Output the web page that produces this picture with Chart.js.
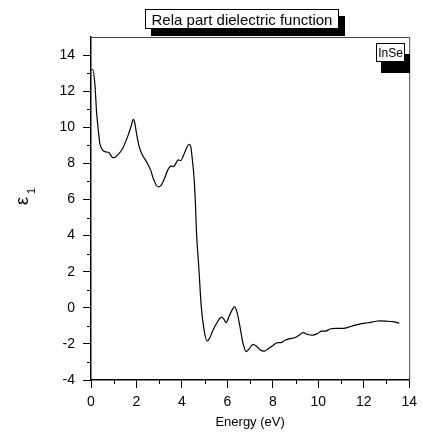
<!DOCTYPE html>
<html>
<head>
<meta charset="utf-8">
<title>Rela part dielectric function</title>
<script src="https://cdn.jsdelivr.net/npm/chart.js@4.4.1/dist/chart.umd.min.js"></script>
<style>
  html, body { margin: 0; padding: 0; background: #fff; }
  #plot { display: block; }
</style>
</head>
<body>
<canvas id="plot" width="423" height="437"></canvas>
<script>
// photon energy (eV) and real part of the dielectric function, InSe
const energy = [
  0.03, 0.08, 0.17, 0.25, 0.32, 0.39, 0.46, 0.6, 0.79, 0.86, 0.96, 1.02,
  1.18, 1.4, 1.61, 1.76, 1.86, 1.93, 2.0, 2.12, 2.26, 2.48, 2.62, 2.76,
  2.95, 3.1, 3.24, 3.38, 3.53, 3.63, 3.7, 3.84, 3.95, 4.06, 4.2, 4.32,
  4.39, 4.46, 4.54, 4.6, 4.64, 4.74, 4.85, 4.97, 5.11, 5.21, 5.35, 5.54,
  5.74, 5.86, 5.94, 6.08, 6.22, 6.32, 6.43, 6.55, 6.68, 6.83, 6.94, 7.13,
  7.27, 7.45, 7.63, 7.8, 8.02, 8.21, 8.34, 8.52, 8.74, 8.96, 9.14, 9.34,
  9.53, 9.75, 9.97, 10.14, 10.32, 10.54, 10.76, 11.12, 11.33, 11.62, 11.91,
  12.2, 12.48, 12.7, 12.99, 13.28, 13.56
];
const eps1 = [
  13.17, 13.2, 12.4, 10.77, 9.85, 9.1, 8.84, 8.65, 8.6, 8.47, 8.32, 8.32,
  8.47, 8.84, 9.48, 10.03, 10.44, 10.22, 9.67, 8.93, 8.47, 8.01, 7.64, 7.09,
  6.69, 6.81, 7.18, 7.64, 7.86, 7.82, 7.93, 8.19, 8.15, 8.41, 8.84, 9.06,
  8.93, 8.19, 7.09, 5.61, 4.2, 2.3, 0.09, -1.2, -1.84, -1.71, -1.29, -0.83,
  -0.52, -0.65, -0.83, -0.46, -0.09, 0.06, -0.28, -1.02, -1.93, -2.43, -2.3, -2.03,
  -2.12, -2.34, -2.4, -2.27, -2.07, -1.93, -1.93, -1.81, -1.71, -1.66, -1.53, -1.38,
  -1.48, -1.51, -1.42, -1.29, -1.29, -1.16, -1.14, -1.14, -1.07, -0.96, -0.88,
  -0.83, -0.76, -0.72, -0.74, -0.77, -0.85
];

const xTicks = [0, 2, 4, 6, 8, 10, 12, 14];
const xMinor = [1, 3, 5, 7, 9, 11, 13];
const yTicks = [-4, -2, 0, 2, 4, 6, 8, 10, 12, 14];
const yMinor = [-3, -1, 1, 3, 5, 7, 9, 11, 13];

const titleText = 'Rela part dielectric function';
const legendText = 'InSe';
const xTitle = 'Energy (eV)';

const FONT = 'Arial, "Liberation Sans", sans-serif';

const shadowBox = (ctx, x, y, w, h, dx, dy) => {
  ctx.fillStyle = '#000';
  ctx.fillRect(x + dx, y + dy, w, h);
  ctx.fillStyle = '#fff';
  ctx.fillRect(x, y, w, h);
  ctx.strokeStyle = '#000';
  ctx.lineWidth = 1;
  ctx.strokeRect(x + 0.5, y + 0.5, w - 1, h - 1);
};

const decor = {
  id: 'decor',
  beforeDraw(chart) {
    const { ctx, width, height } = chart;
    ctx.save();
    ctx.fillStyle = '#fff';
    ctx.fillRect(0, 0, width, height);
    ctx.restore();
  },
  afterDraw(chart) {
    const { ctx, chartArea: a } = chart;
    const sx = chart.scales.x, sy = chart.scales.y;
    ctx.save();

    // top and right frame
    ctx.strokeStyle = '#444';
    ctx.lineWidth = 1;
    ctx.beginPath();
    ctx.moveTo(a.left, a.top + 0.5);
    ctx.lineTo(a.right + 0.5, a.top + 0.5);
    ctx.lineTo(a.right + 0.5, a.bottom);
    ctx.stroke();

    // minor ticks
    ctx.strokeStyle = '#000';
    ctx.beginPath();
    xMinor.forEach((v) => {
      const px = Math.round(sx.getPixelForValue(v)) + 0.5;
      ctx.moveTo(px, a.bottom);
      ctx.lineTo(px, a.bottom + 4);
    });
    yMinor.forEach((v) => {
      const py = Math.round(sy.getPixelForValue(v)) + 0.5;
      ctx.moveTo(a.left, py);
      ctx.lineTo(a.left - 4, py);
    });
    ctx.stroke();

    // title box
    ctx.font = `15px ${FONT}`;
    shadowBox(ctx, 145, 9, 194, 20, 6, 7);
    ctx.fillStyle = '#000';
    ctx.textAlign = 'center';
    ctx.textBaseline = 'alphabetic';
    ctx.fillText(titleText, 242, 25);

    // legend box
    ctx.font = `12px ${FONT}`;
    shadowBox(ctx, 376, 43, 29, 19, 5, 11);
    ctx.fillStyle = '#000';
    ctx.fillText(legendText, 390.5, 57);

    // x axis title
    ctx.font = `13px ${FONT}`;
    ctx.fillText(xTitle, (a.left + a.right) / 2, 426);

    // y axis title: epsilon with subscript 1
    ctx.translate(28, 205);
    ctx.rotate(-Math.PI / 2);
    ctx.textAlign = 'left';
    ctx.font = `18px ${FONT}`;
    ctx.fillText('\u03b5', 0, 0);
    ctx.font = `11px ${FONT}`;
    ctx.fillText('1', 11, 7);

    ctx.restore();
  }
};

const axisCommon = {
  type: 'linear',
  grid: { display: true, drawOnChartArea: false, drawTicks: true, tickLength: 8, color: '#000', tickWidth: 1 },
  border: { display: true, color: '#000', width: 1.5 },
  ticks: { color: '#000', font: { family: FONT, size: 14 }, maxRotation: 0, autoSkip: false }
};

new Chart(document.getElementById('plot'), {
  type: 'line',
  data: {
    datasets: [{
      label: legendText,
      data: energy.map((e, i) => ({ x: e, y: eps1[i] })),
      borderColor: '#000',
      borderWidth: 1.2,
      pointRadius: 0,
      fill: false,
      cubicInterpolationMode: 'monotone'
    }]
  },
  options: {
    responsive: false,
    animation: false,
    devicePixelRatio: 1,
    layout: { padding: { left: 0, top: 37, right: 9, bottom: 0 } },
    plugins: { legend: { display: false }, title: { display: false }, tooltip: { enabled: false } },
    scales: {
      x: {
        ...axisCommon,
        min: 0, max: 14,
        ticks: { ...axisCommon.ticks, padding: 6 },
        afterBuildTicks: (s) => { s.ticks = xTicks.map((v) => ({ value: v })); },
        afterFit: (s) => { s.height = 57; }
      },
      y: {
        ...axisCommon,
        min: -4, max: 15,
        ticks: { ...axisCommon.ticks, padding: 8 },
        afterBuildTicks: (s) => { s.ticks = yTicks.map((v) => ({ value: v })); },
        afterFit: (s) => { s.width = 91; }
      }
    }
  },
  plugins: [decor]
});
</script>
</body>
</html>
